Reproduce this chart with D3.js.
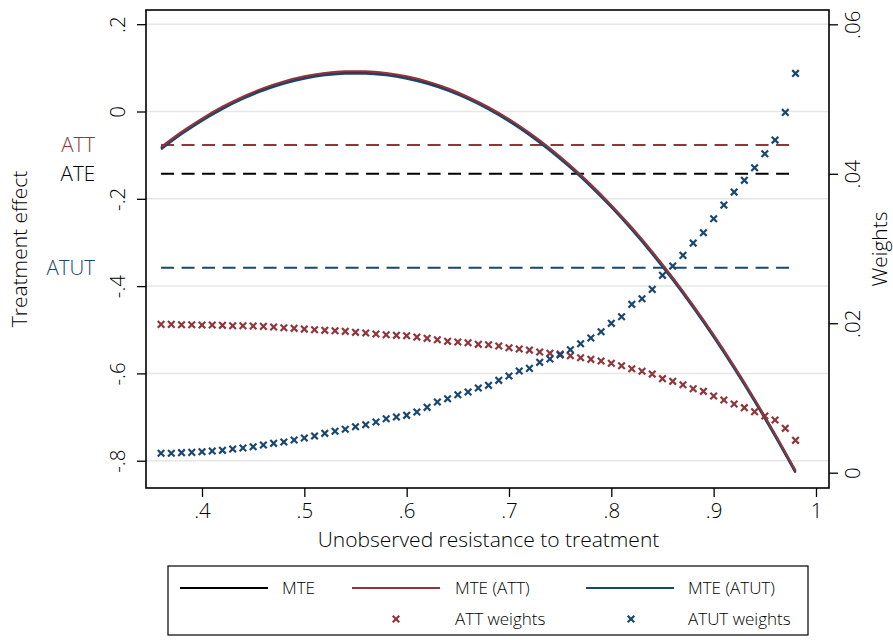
<!DOCTYPE html>
<html>
<head>
<meta charset="utf-8">
<script src="https://cdn.jsdelivr.net/npm/d3@7"></script>
<style>
  body { margin: 0; background: #fff; }
  text { font-family: "Open Sans", "Noto Sans", sans-serif; font-weight: 300; fill: #000; }
</style>
</head>
<body>
<svg id="chart" width="893" height="640"></svg>
<script>
// Propensity grid for the weights (step .01) and the MTE curves (step .02)
const pWeights = [0.36,0.37,0.38,0.39,0.40,0.41,0.42,0.43,0.44,0.45,0.46,0.47,0.48,0.49,0.50,0.51,0.52,0.53,0.54,0.55,0.56,0.57,0.58,0.59,0.60,0.61,0.62,0.63,0.64,0.65,0.66,0.67,0.68,0.69,0.70,0.71,0.72,0.73,0.74,0.75,0.76,0.77,0.78,0.79,0.80,0.81,0.82,0.83,0.84,0.85,0.86,0.87,0.88,0.89,0.90,0.91,0.92,0.93,0.94,0.95,0.96,0.97,0.98];
const attWeights = [0.01985,0.01985,0.01980,0.01980,0.01976,0.01976,0.01972,0.01967,0.01967,0.01963,0.01958,0.01949,0.01940,0.01932,0.01922,0.01913,0.01905,0.01900,0.01892,0.01878,0.01869,0.01856,0.01846,0.01838,0.01833,0.01815,0.01798,0.01779,0.01758,0.01749,0.01739,0.01718,0.01712,0.01695,0.01672,0.01655,0.01641,0.01615,0.01597,0.01588,0.01565,0.01538,0.01517,0.01494,0.01464,0.01431,0.01391,0.01357,0.01320,0.01258,0.01223,0.01177,0.01124,0.01089,0.01026,0.00973,0.00919,0.00870,0.00816,0.00759,0.00705,0.00594,0.00433];
const atutWeights = [0.00260,0.00260,0.00268,0.00272,0.00281,0.00290,0.00299,0.00317,0.00330,0.00348,0.00371,0.00393,0.00411,0.00437,0.00464,0.00491,0.00527,0.00554,0.00581,0.00615,0.00642,0.00678,0.00722,0.00745,0.00768,0.00812,0.00875,0.00946,0.00990,0.01043,0.01080,0.01133,0.01169,0.01236,0.01294,0.01361,0.01396,0.01477,0.01521,0.01575,0.01646,0.01726,0.01802,0.01886,0.01999,0.02087,0.02253,0.02328,0.02453,0.02641,0.02765,0.02908,0.03073,0.03211,0.03398,0.03581,0.03755,0.03912,0.04080,0.04268,0.04451,0.04821,0.05343];

const pCurve = [0.36,0.38,0.40,0.42,0.44,0.46,0.48,0.50,0.52,0.54,0.56,0.58,0.60,0.62,0.64,0.66,0.68,0.70,0.72,0.74,0.76,0.78,0.80,0.82,0.84,0.86,0.88,0.90,0.92,0.94,0.96,0.98];
const mte     = [-0.0840,-0.0494,-0.0187,0.0083,0.0315,0.0508,0.0663,0.0779,0.0856,0.0895,0.0895,0.0856,0.0778,0.0661,0.0505,0.0309,0.0074,-0.0201,-0.0515,-0.0869,-0.1263,-0.1696,-0.2170,-0.2684,-0.3238,-0.3832,-0.4467,-0.5143,-0.5859,-0.6616,-0.7413,-0.8252];
const mteAtt  = [-0.0815,-0.0469,-0.0162,0.0108,0.0340,0.0533,0.0688,0.0804,0.0881,0.0920,0.0920,0.0881,0.0803,0.0686,0.0530,0.0334,0.0099,-0.0176,-0.0490,-0.0844,-0.1238,-0.1671,-0.2145,-0.2659,-0.3213,-0.3807,-0.4442,-0.5118,-0.5834,-0.6591,-0.7388,-0.8227];
const mteAtut = [-0.0865,-0.0519,-0.0212,0.0058,0.0290,0.0483,0.0638,0.0754,0.0831,0.0870,0.0870,0.0831,0.0753,0.0636,0.0480,0.0284,0.0049,-0.0226,-0.0540,-0.0894,-0.1288,-0.1721,-0.2195,-0.2709,-0.3263,-0.3857,-0.4492,-0.5168,-0.5884,-0.6641,-0.7438,-0.8277];

// Average effects shown as dashed reference lines
const effectNames  = ["ATT", "ATE", "ATUT"];
const effectValues = [-0.0767, -0.1425, -0.3578];

// Tick values and labels
const xTicks = [0.4, 0.5, 0.6, 0.7, 0.8, 0.9, 1.0];
const xTickLabels = [".4", ".5", ".6", ".7", ".8", ".9", "1"];
const yTicks = [0.2, 0, -0.2, -0.4, -0.6, -0.8];
const yTickLabels = [".2", "0", "-.2", "-.4", "-.6", "-.8"];
const wTicks = [0, 0.02, 0.04, 0.06];
const wTickLabels = ["0", ".02", ".04", ".06"];

const RED = "#90353b", BLUE = "#1a476f", BLACK = "#000";
const FS = "20.5px";

const svg = d3.select("#chart");
const plot = { left: 146, right: 829, top: 10, bottom: 488 };

const x  = d3.scaleLinear().domain([0.34528, 1.01272]).range([plot.left, plot.right]);
const y  = d3.scaleLinear().domain([-0.8625, 0.23253]).range([plot.bottom, plot.top]);
const yw = d3.scaleLinear().domain([-0.002047, 0.061916]).range([plot.bottom, plot.top]);

// Horizontal grid at the left-axis ticks
svg.append("g").selectAll("line").data(yTicks).join("line")
  .attr("x1", plot.left).attr("x2", plot.right)
  .attr("y1", d => y(d)).attr("y2", d => y(d))
  .attr("stroke", "#e6e6e6").attr("stroke-width", 1.5);

function styleTicks(g) {
  g.select(".domain").remove();
  g.selectAll(".tick line").attr("stroke", "#000").attr("stroke-width", 1.3);
  g.selectAll(".tick text").attr("fill", "#000")
    .style("font-size", FS).style("font-family", "'Open Sans', sans-serif").style("font-weight", 300);
}

// Left axis
const leftAxis = svg.append("g").attr("transform", `translate(${plot.left},0)`)
  .call(d3.axisLeft(y).tickValues(yTicks).tickSize(9).tickFormat((d, i) => yTickLabels[i]));
styleTicks(leftAxis);
leftAxis.selectAll(".tick text")
  .attr("x", null)
  .attr("transform", "translate(-28,0) rotate(-90)")
  .attr("text-anchor", "middle").attr("dy", "0.35em");

// Right axis (weights)
const rightAxis = svg.append("g").attr("transform", `translate(${plot.right},0)`)
  .call(d3.axisRight(yw).tickValues(wTicks).tickSize(9).tickFormat((d, i) => wTickLabels[i]));
styleTicks(rightAxis);
rightAxis.selectAll(".tick text")
  .attr("x", null)
  .attr("transform", "translate(24,0) rotate(-90)")
  .attr("text-anchor", "middle").attr("dy", "0.35em");

// Bottom axis
const bottomAxis = svg.append("g").attr("transform", `translate(0,${plot.bottom})`)
  .call(d3.axisBottom(x).tickValues(xTicks).tickSize(9).tickFormat((d, i) => xTickLabels[i]));
styleTicks(bottomAxis);
bottomAxis.selectAll(".tick text").attr("y", 30).attr("dy", null);

// Plot frame
svg.append("rect")
  .attr("x", plot.left).attr("y", plot.top)
  .attr("width", plot.right - plot.left).attr("height", plot.bottom - plot.top)
  .attr("fill", "none").attr("stroke", "#000").attr("stroke-width", 1.6);

// Dashed average-effect lines with their labels
const effectColors = [RED, BLACK, BLUE];
svg.append("g").selectAll("line").data(effectValues).join("line")
  .attr("x1", x(pCurve[0])).attr("x2", x(pCurve[pCurve.length - 1]))
  .attr("y1", d => y(d)).attr("y2", d => y(d))
  .attr("stroke", (d, i) => effectColors[i]).attr("stroke-width", 2)
  .attr("stroke-dasharray", "13 7.5");

svg.append("g").selectAll("text").data(effectValues).join("text")
  .attr("x", 95).attr("y", d => y(d)).attr("dy", "0.35em")
  .attr("text-anchor", "end")
  .style("font-size", FS)
  .style("fill", (d, i) => effectColors[i])
  .text((d, i) => effectNames[i]);

// MTE curves
const line = d3.line().x(d => x(d[0])).y(d => y(d[1])).curve(d3.curveMonotoneX);
const curves = [
  { vals: mte, color: BLACK },
  { vals: mteAtut, color: BLUE },
  { vals: mteAtt, color: RED }
];
svg.append("g").selectAll("path").data(curves).join("path")
  .attr("d", c => line(pCurve.map((p, i) => [p, c.vals[i]])))
  .attr("fill", "none").attr("stroke", c => c.color).attr("stroke-width", 2.2);

// Weight markers
const xSym = d3.symbol().type(d3.symbolX || d3.symbolCross).size(30);
function drawMarkers(vals, color) {
  svg.append("g").selectAll("path").data(vals).join("path")
    .attr("d", xSym)
    .attr("transform", (d, i) => `translate(${x(pWeights[i])},${yw(d)})`)
    .attr("fill", "none").attr("stroke", color).attr("stroke-width", 2.2);
}
drawMarkers(attWeights, RED);
drawMarkers(atutWeights, BLUE);

// Axis titles
svg.append("text").attr("transform", "translate(27,249) rotate(-90)")
  .attr("text-anchor", "middle").style("font-size", "21px").text("Treatment effect");
svg.append("text").attr("transform", "translate(872,249) rotate(-90)")
  .attr("text-anchor", "middle").attr("dy", "0.7em").style("font-size", "21px").text("Weights");
svg.append("text").attr("x", (plot.left + plot.right) / 2 + 1).attr("y", 547)
  .attr("text-anchor", "middle").style("font-size", "21px").text("Unobserved resistance to treatment");

// Legend
const legend = svg.append("g");
legend.append("rect").attr("x", 168).attr("y", 566).attr("width", 640).attr("height", 69)
  .attr("fill", "#fff").attr("stroke", "#000").attr("stroke-width", 1.2);
const lineItems = [
  { label: "MTE", color: BLACK, x0: 180, tx: 282 },
  { label: "MTE (ATT)", color: RED, x0: 352, tx: 455 },
  { label: "MTE (ATUT)", color: BLUE, x0: 586, tx: 688 }
];
lineItems.forEach(it => {
  legend.append("line").attr("x1", it.x0).attr("x2", it.x0 + 88)
    .attr("y1", 588).attr("y2", 588).attr("stroke", it.color).attr("stroke-width", 2.2);
  legend.append("text").attr("x", it.tx).attr("y", 588).attr("dy", "0.35em")
    .style("font-size", "17px").text(it.label);
});
const markerItems = [
  { label: "ATT weights", color: RED, mx: 396, tx: 455 },
  { label: "ATUT weights", color: BLUE, mx: 631, tx: 688 }
];
markerItems.forEach(it => {
  legend.append("path").attr("d", xSym).attr("transform", `translate(${it.mx},619)`)
    .attr("fill", "none").attr("stroke", it.color).attr("stroke-width", 2.2);
  legend.append("text").attr("x", it.tx).attr("y", 619).attr("dy", "0.35em")
    .style("font-size", "17px").text(it.label);
});
</script>
</body>
</html>
